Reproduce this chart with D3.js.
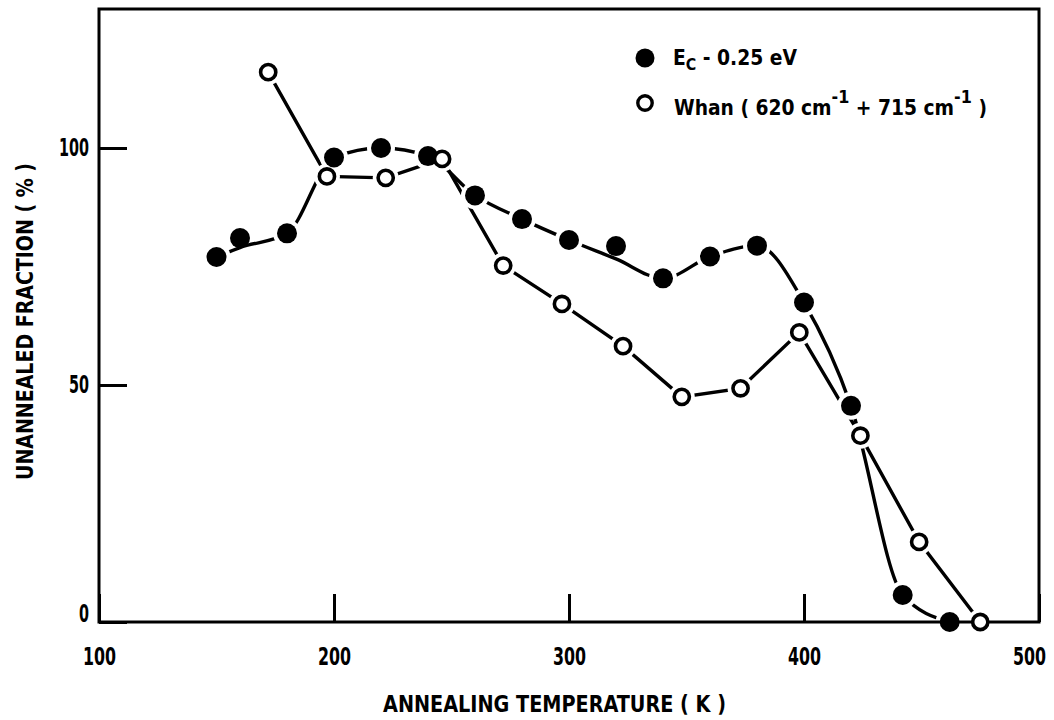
<!DOCTYPE html>
<html>
<head>
<meta charset="utf-8">
<script src="https://cdn.jsdelivr.net/npm/d3@7"></script>
<style>
  body { margin: 0; background: #fff; }
  text { font-family: "Liberation Sans Narrow", "DejaVu Sans Condensed", "Arial Narrow", sans-serif; font-weight: bold; fill: #000; }
</style>
</head>
<body>
<svg id="chart" width="1054" height="720"></svg>
<script>
// Ec - 0.25 eV level (filled circles)
var ecTemp = [150, 160, 180, 200, 220, 240, 260, 280, 300, 320, 340, 360, 380, 400, 420, 442, 462];
var ecFrac = [77, 81, 82, 98, 100, 98.3, 90, 85, 80.6, 79.3, 72.5, 77.1, 79.4, 67.4, 45.6, 5.7, 0];
// the hand drawn curve misses the 160 K and 320 K points a little
var ecCurve = [77, 79, 82, 98, 100, 98.3, 90, 85, 80.6, 76.6, 72.5, 77.1, 79.4, 67.4, 45.6, 5.7, 0];

// Whan (620 cm-1 + 715 cm-1) (open circles)
var whanTemp = [172, 197, 222, 246, 272, 297, 323, 348, 373, 398, 424, 449, 475];
var whanFrac = [116, 94, 93.7, 97.7, 75.2, 67.1, 58.2, 47.5, 49.3, 61.1, 39.3, 16.9, 0];

var xTicks = [100, 200, 300, 400, 500];
var yTicks = [0, 50, 100];

var margin = { left: 99, right: 1039, top: 9, bottom: 622 };

var svg = d3.select('#chart');

var x = d3.scaleLinear().domain([100, 500]).range([margin.left, margin.right]);
var y = d3.scaleLinear().domain([0, 100]).range([margin.bottom, 148]);

var ecPts = ecTemp.map(function(t, i) { return { t: t, v: ecFrac[i], c: ecCurve[i] }; });
var whanPts = whanTemp.map(function(t, i) { return { t: t, v: whanFrac[i] }; });

// LINES
var ecLine = d3.line()
  .x(function(d) { return x(d.t); })
  .y(function(d) { return y(d.c); })
  .curve(d3.curveMonotoneX);

var whanLine = d3.line()
  .x(function(d) { return x(d.t); })
  .y(function(d) { return y(d.v); });

svg.append('path')
  .datum(ecPts)
  .attr('d', ecLine)
  .attr('fill', 'none')
  .attr('stroke', '#000')
  .attr('stroke-width', 3.4);

svg.append('path')
  .datum(whanPts)
  .attr('d', whanLine)
  .attr('fill', 'none')
  .attr('stroke', '#000')
  .attr('stroke-width', 3.4);

// white gaps round the points, like the pen lifted near each marker
svg.append('g').selectAll('circle')
  .data(ecPts.filter(function(d) { return d.c === d.v; }))
  .enter().append('circle')
  .attr('cx', function(d) { return x(d.t); })
  .attr('cy', function(d) { return y(d.v); })
  .attr('r', 14)
  .attr('fill', '#fff');

svg.append('g').selectAll('circle')
  .data(whanPts)
  .enter().append('circle')
  .attr('cx', function(d) { return x(d.t); })
  .attr('cy', function(d) { return y(d.v); })
  .attr('r', 13)
  .attr('fill', '#fff');

// FRAME + AXES
svg.append('rect')
  .attr('x', margin.left)
  .attr('y', margin.top)
  .attr('width', margin.right - margin.left)
  .attr('height', margin.bottom - margin.top)
  .attr('fill', 'none')
  .attr('stroke', '#000')
  .attr('stroke-width', 3);

var xAxis = d3.axisBottom(x)
  .tickValues(xTicks)
  .tickSize(-28)
  .tickPadding(26)
  .tickFormat(d3.format('d'));

var gx = svg.append('g')
  .attr('transform', 'translate(0,' + margin.bottom + ')')
  .call(xAxis);
gx.select('.domain').remove();
gx.selectAll('line').attr('stroke', '#000').attr('stroke-width', 3);
gx.selectAll('text')
  .style('font-size', '24px')
  .attr('textLength', function(d) { return String(d).length * 11; })
  .attr('lengthAdjust', 'spacingAndGlyphs');
gx.selectAll('.tick').filter(function(d) { return d === 500; })
  .select('text').attr('x', -10);

var yAxis = d3.axisLeft(y)
  .tickValues(yTicks)
  .tickSize(-28)
  .tickPadding(10)
  .tickFormat(d3.format('d'));

var gy = svg.append('g')
  .attr('transform', 'translate(' + margin.left + ',0)')
  .call(yAxis);
gy.select('.domain').remove();
gy.selectAll('line').attr('stroke', '#000').attr('stroke-width', 3);
gy.selectAll('text')
  .style('font-size', '24px')
  .attr('textLength', function(d) { return String(d).length * 10; })
  .attr('lengthAdjust', 'spacingAndGlyphs');
gy.selectAll('.tick').filter(function(d) { return d === 0; })
  .select('text').attr('y', -8);

// MARKERS
svg.append('g').selectAll('circle')
  .data(ecPts)
  .enter().append('circle')
  .attr('cx', function(d) { return x(d.t); })
  .attr('cy', function(d) { return y(d.v); })
  .attr('r', 10)
  .attr('fill', '#000');

svg.append('g').selectAll('circle')
  .data(whanPts)
  .enter().append('circle')
  .attr('cx', function(d) { return x(d.t); })
  .attr('cy', function(d) { return y(d.v); })
  .attr('r', 7.6)
  .attr('fill', '#fff')
  .attr('stroke', '#000')
  .attr('stroke-width', 3.6);

// AXIS TITLES
svg.append('text')
  .attr('x', (383 + 726) / 2)
  .attr('y', 712)
  .attr('text-anchor', 'middle')
  .attr('textLength', 343)
  .attr('lengthAdjust', 'spacingAndGlyphs')
  .style('font-size', '23px')
  .text('ANNEALING TEMPERATURE ( K )');

svg.append('text')
  .attr('transform', 'translate(33,' + (163 + 480) / 2 + ') rotate(-90)')
  .attr('text-anchor', 'middle')
  .attr('textLength', 317)
  .attr('lengthAdjust', 'spacingAndGlyphs')
  .style('font-size', '23px')
  .text('UNANNEALED FRACTION ( % )');

// LEGEND
var legend = svg.append('g');

legend.append('circle')
  .attr('cx', 645).attr('cy', 58).attr('r', 9.5)
  .attr('fill', '#000');

legend.append('circle')
  .attr('cx', 645).attr('cy', 103).attr('r', 7.2)
  .attr('fill', '#fff').attr('stroke', '#000').attr('stroke-width', 3.4);

var t1 = legend.append('text')
  .attr('x', 673).attr('y', 65)
  .attr('textLength', 124)
  .attr('lengthAdjust', 'spacingAndGlyphs')
  .style('font-size', '21px');
t1.append('tspan').text('E');
t1.append('tspan').attr('dy', 5).style('font-size', '16px').text('C');
t1.append('tspan').attr('dy', -5).text(' - 0.25 eV');

var t2 = legend.append('text')
  .attr('x', 674).attr('y', 115)
  .attr('textLength', 313)
  .attr('lengthAdjust', 'spacingAndGlyphs')
  .style('font-size', '21px');
t2.append('tspan').text('Whan ( 620 cm');
t2.append('tspan').attr('dy', -12).style('font-size', '18px').text('-1');
t2.append('tspan').attr('dy', 12).text(' + 715 cm');
t2.append('tspan').attr('dy', -12).style('font-size', '18px').text('-1');
t2.append('tspan').attr('dy', 12).text(' )');
</script>
</body>
</html>
